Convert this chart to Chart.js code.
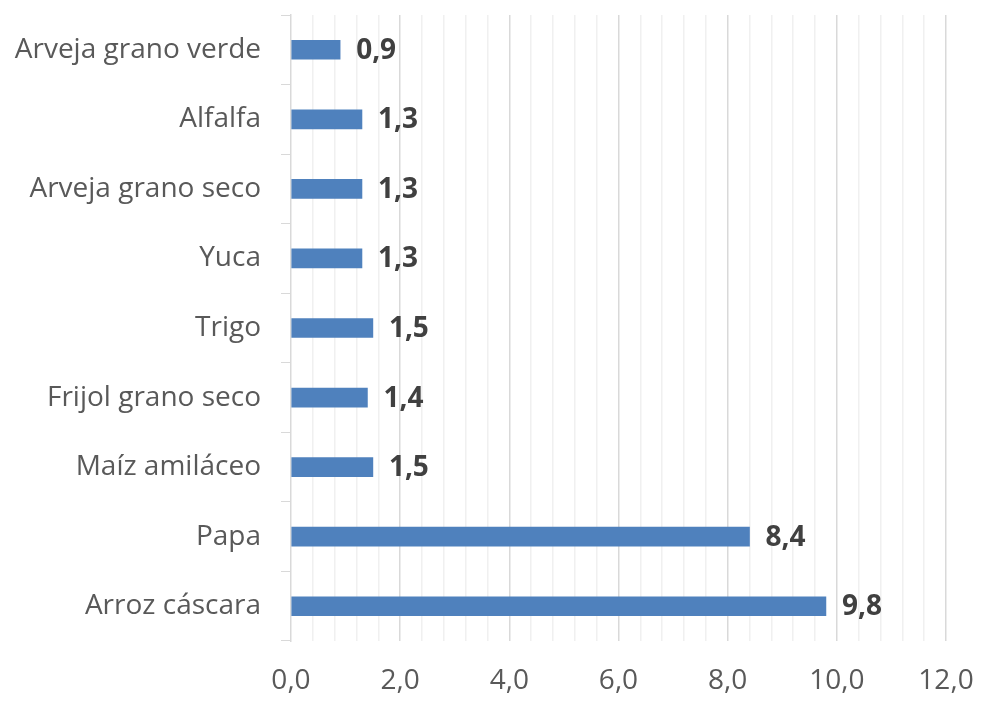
<!DOCTYPE html>
<html>
<head>
<meta charset="utf-8">
<script src="https://cdn.jsdelivr.net/npm/chart.js@4"></script>
<style>
  html, body { margin: 0; padding: 0; background: #fff; }
  #wrap { width: 987px; height: 706px; }
</style>
</head>
<body>
<div id="wrap"><canvas id="chart"></canvas></div>
<script>
const cultivos = ['Arveja grano verde', 'Alfalfa', 'Arveja grano seco', 'Yuca', 'Trigo',
    'Frijol grano seco', 'Maíz amiláceo', 'Papa', 'Arroz cáscara'];
const valores = [0.9, 1.3, 1.3, 1.3, 1.5, 1.4, 1.5, 8.4, 9.8];
const ejeMin = 0;
const ejeMax = 12;
const pasoMenor = 0.4;
const pasoMayor = 2;

function formatoComa(v) {
    return v.toFixed(1).replace('.', ',');
}

function esMayor(v) {
    return Math.abs(v / pasoMayor - Math.round(v / pasoMayor)) < 1e-6;
}

// etiquetas de valor al final de cada barra
const etiquetasBarras = {
    id: 'etiquetasBarras',
    afterDatasetsDraw(chart) {
        const ctx = chart.ctx;
        const meta = chart.getDatasetMeta(0);
        ctx.save();
        ctx.font = 'bold 28px "Open Sans"';
        ctx.fillStyle = '#404040';
        ctx.textAlign = 'left';
        ctx.textBaseline = 'middle';
        meta.data.forEach(function(bar, i) {
            ctx.fillText(formatoComa(valores[i]), bar.x + 16, bar.y + 1);
        });
        ctx.restore();
    }
};

const ctx = document.getElementById('chart').getContext('2d');
new Chart(ctx, {
    type: 'bar',
    data: {
        labels: cultivos,
        datasets: [{
            data: valores,
            backgroundColor: '#4f81bd',
            borderWidth: 0,
            barThickness: 19
        }]
    },
    options: {
        indexAxis: 'y',
        responsive: true,
        maintainAspectRatio: false,
        animation: false,
        layout: { padding: { top: 15, right: 41, left: 0, bottom: 0 } },
        plugins: {
            legend: { display: false },
            tooltip: { enabled: false }
        },
        scales: {
            x: {
                min: ejeMin,
                max: ejeMax,
                ticks: {
                    stepSize: pasoMenor,
                    autoSkip: false,
                    maxRotation: 0,
                    color: '#595959',
                    font: { family: 'Open Sans', size: 28 },
                    padding: 23,
                    callback: function(v) {
                        return esMayor(v) ? formatoComa(v) : '';
                    }
                },
                grid: {
                    drawTicks: false,
                    color: function(c) {
                        if (c.tick && c.tick.value === 0) return 'rgba(0,0,0,0)';
                        return c.tick && esMayor(c.tick.value) ? '#d9d9d9' : '#f0f0f0';
                    },
                    lineWidth: 1.5
                },
                border: { display: false },
                afterFit: function(scale) {
                    scale.height = 65;
                    scale.paddingRight = 0;
                }
            },
            y: {
                ticks: {
                    color: '#595959',
                    font: { family: 'Open Sans', size: 28 },
                    padding: 20
                },
                grid: {
                    offset: true,
                    drawOnChartArea: false,
                    tickLength: 10,
                    color: '#d9d9d9'
                },
                border: { color: '#d9d9d9', width: 1.5 },
                afterFit: function(scale) {
                    scale.width = 291;
                    scale.paddingTop = 0;
                    scale.paddingBottom = 0;
                }
            }
        }
    },
    plugins: [etiquetasBarras]
});
</script>
</body>
</html>
